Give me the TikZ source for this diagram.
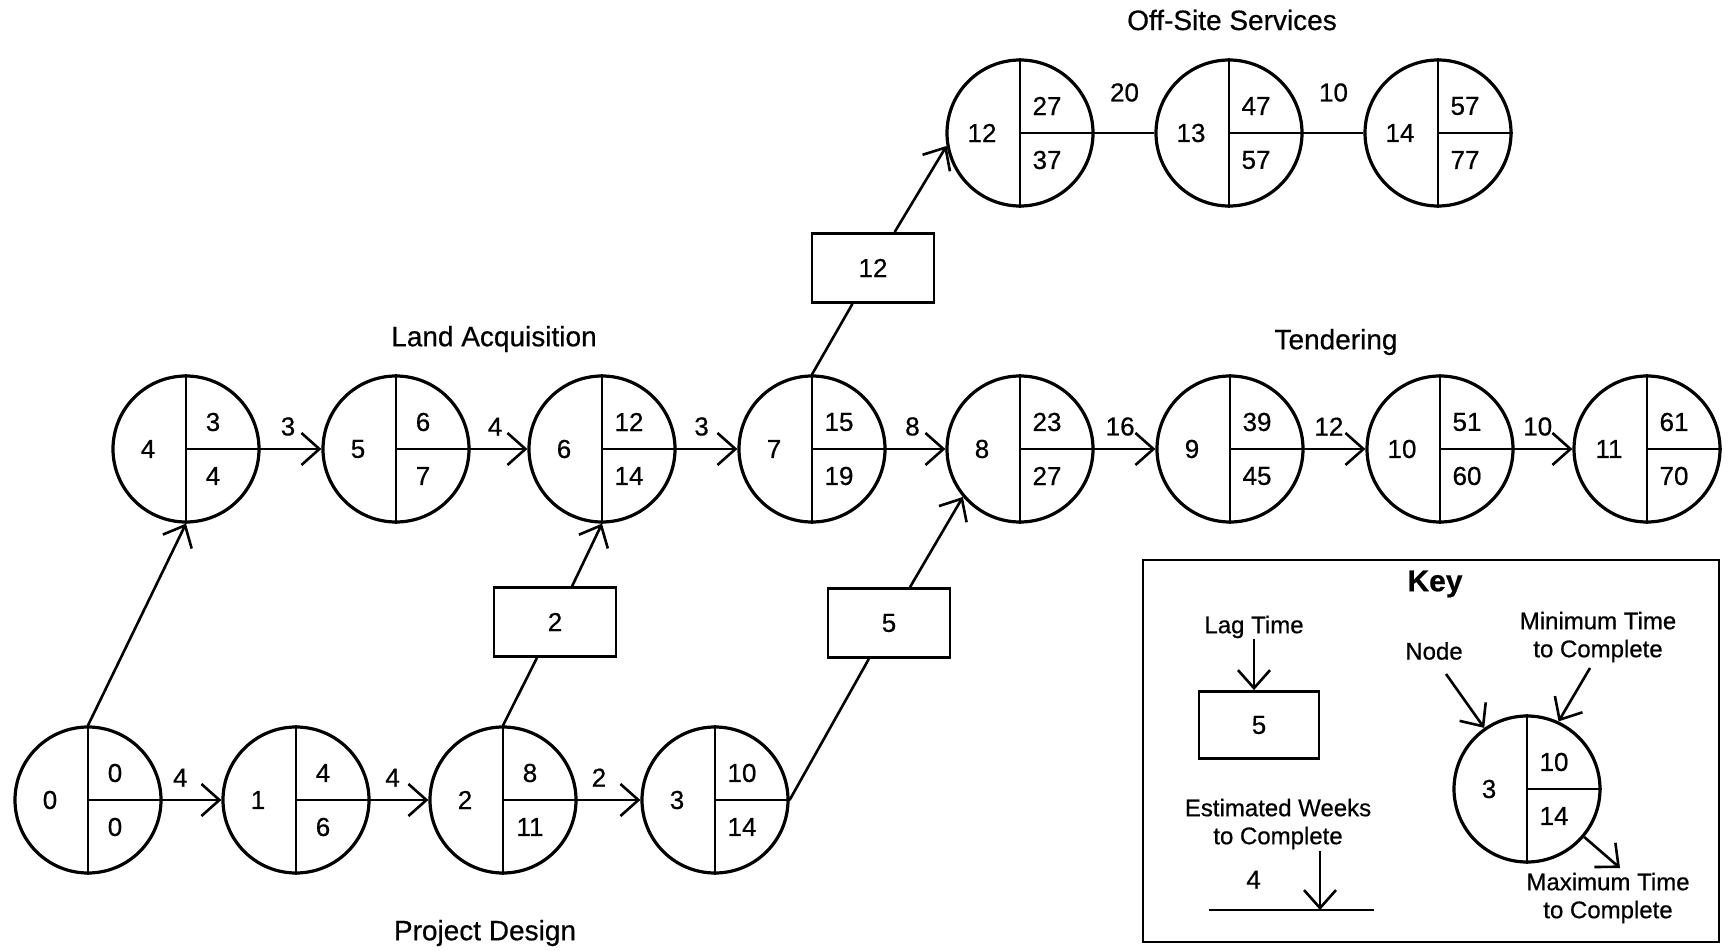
\documentclass[tikz,border=0pt]{standalone}
\usepackage{fontspec}
\setmainfont{Liberation Sans}[FakeBold=0.6]
\usetikzlibrary{arrows.meta,calc}
\tikzset{
  pnode/.style={circle,draw,line width=1.6pt,minimum size=73pt,inner sep=0pt},
  divline/.style={line width=1.2pt},
  numtxt/.style={inner sep=0pt,font=\fontsize{13}{15}\selectfont},
  lagbox/.style={draw,line width=1.4pt,minimum width=61pt,minimum height=34.5pt,inner sep=0pt,font=\fontsize{13}{15}\selectfont},
  conn/.style={line width=1.3pt},
  arr/.style={line width=1.3pt,-{Straight Barb[length=9pt,width=16pt,line width=1.3pt]}},
  lbl/.style={above=6pt,inner sep=0pt,font=\fontsize{13}{15}\selectfont},
  ttl/.style={inner sep=0pt,font=\fontsize{14}{16}\selectfont},
  keytxt/.style={inner sep=0pt,align=center,font=\fontsize{12}{14}\selectfont},
}
\newcommand\pertnode[5]{%
  \node[pnode] (#1) at (#2) {};
  \draw[divline] (#1.north) -- (#1.south) (#1.center) -- (#1.east);
  \node[numtxt] (#1-id) at ($(#1.center)+(-38,0)$) {#3};
  \node[numtxt] (#1-min) at ($(#1.center)+(27,-27)$) {#4};
  \node[numtxt] (#1-max) at ($(#1.center)+(27,27)$) {#5};
}
\begin{document}
\begin{tikzpicture}[x=0.5pt,y=-0.5pt]
\useasboundingbox (0,0) rectangle (1728,951);
% bottom row
\pertnode{n0}{88,800}{0}{0}{0}
\pertnode{n1}{296,800}{1}{4}{6}
\pertnode{n2}{503,800}{2}{8}{11}
\pertnode{n3}{715,800}{3}{10}{14}
% middle row
\pertnode{n4}{186,449}{4}{3}{4}
\pertnode{n5}{396,449}{5}{6}{7}
\pertnode{n6}{602,449}{6}{12}{14}
\pertnode{n7}{812,449}{7}{15}{19}
\pertnode{n8}{1020,449}{8}{23}{27}
\pertnode{n9}{1230,449}{9}{39}{45}
\pertnode{n10}{1440,449}{10}{51}{60}
\pertnode{n11}{1647,449}{11}{61}{70}
% top row
\pertnode{n12}{1020,133}{12}{27}{37}
\pertnode{n13}{1229,133}{13}{47}{57}
\pertnode{n14}{1438,133}{14}{57}{77}
% lag boxes
\node[lagbox] (lag2) at (555,622) {2};
\node[lagbox] (lag5) at (889,623) {5};
\node[lagbox] (lag12) at (873,268) {12};
% titles
\node[ttl] (tOff) at (1232,20) {Off-Site Services};
\node[ttl] (tLand) at (494,339) {Land Acquisition};
\node[ttl] (tTend) at (1336,342) {Tendering};
\node[ttl] (tProj) at (485,933) {Project Design};
% horizontal arrows
\draw[arr] (n0.east) -- node[lbl,pos=0.3]{4} (n1.west);
\draw[arr] (n1.east) -- node[lbl,pos=0.38]{4} (n2.west);
\draw[arr] (n2.east) -- node[lbl,pos=0.34]{2} (n3.west);
\draw[arr] (n4.east) -- node[lbl,pos=0.45]{3} (n5.west);
\draw[arr] (n5.east) -- node[lbl,pos=0.43]{4} (n6.west);
\draw[arr] (n6.east) -- node[lbl,pos=0.41]{3} (n7.west);
\draw[arr] (n7.east) -- node[lbl,pos=0.44]{8} (n8.west);
\draw[arr] (n8.east) -- node[lbl,pos=0.42]{16} (n9.west);
\draw[arr] (n9.east) -- node[lbl,pos=0.4]{12} (n10.west);
\draw[arr] (n10.east) -- node[lbl,pos=0.4]{10} (n11.west);
\draw[conn] (n12.east) -- node[lbl,above=9pt,pos=0.5]{20} (n13.west);
\draw[conn] (n13.east) -- node[lbl,above=9pt,pos=0.5]{10} (n14.west);
% diagonal connectors
\draw[arr] (n0.north) -- (n4.south);
\draw[conn] (n2.north) -- (lag2);
\draw[arr] (lag2) -- (n6.south);
\draw[conn] (n3.east) -- (lag5);
\draw[arr] (lag5) -- (n8.220);
\draw[conn] (n7.north) -- (lag12);
\draw[arr] (lag12) -- (n12.190);
% key
\node[draw,line width=1.4pt,minimum width=288pt,minimum height=191pt,inner sep=0pt] (keybox) at (1431,751) {};
\node[inner sep=0pt,font=\bfseries\fontsize{15}{17}\selectfont] (keyttl) at (1435,584) {Key};
\node[keytxt] (klagt) at (1254,627) {Lag Time};
\node[lagbox,minimum width=60pt,minimum height=33.5pt] (klag) at (1259,725) {5};
\draw[arr] (klagt.south) -- (klagt.south |- klag.north);
\node[keytxt] (kest) at (1278,824) {Estimated Weeks\\to Complete};
\coordinate (kel) at (1209,910);
\coordinate (ker) at (1374,910);
\draw[conn] (kel) -- node[lbl,above=4pt,pos=0.27]{4} (ker);
\coordinate (kea) at (1320,851);
\draw[arr] (kea) -- (kea |- ker);
\pertnode{nk}{1527,789}{3}{10}{14}
\node[keytxt] (knode) at (1434,651) {Node};
\coordinate (knodea) at (1446,674);
\draw[arr] (knodea) -- (nk.125);
\node[keytxt] (kmin) at (1598,637) {Minimum Time\\to Complete};
\coordinate (kmina) at (1590,668);
\draw[arr] (kmina) -- (nk.65);
\node[keytxt] (kmax) at (1608,898) {Maximum Time\\to Complete};
\coordinate (kmaxa) at (1620,868);
\draw[arr] (nk.-40) -- (kmaxa);
\end{tikzpicture}
\end{document}
